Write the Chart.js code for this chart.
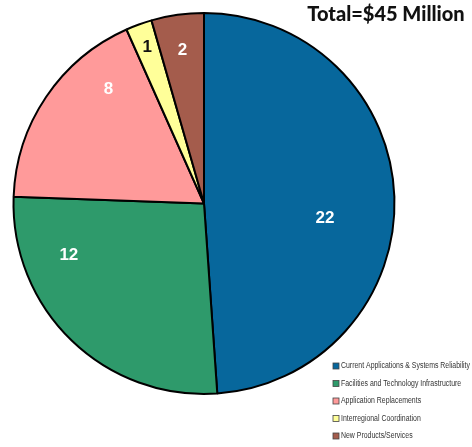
<!DOCTYPE html>
<html>
<head>
<meta charset="utf-8">
<script src="https://cdn.jsdelivr.net/npm/chart.js@4"></script>
<style>
  html, body { margin: 0; padding: 0; background: #fff; }
  #wrap { position: relative; width: 472px; height: 447px; }
</style>
</head>
<body>
<div id="wrap"><canvas id="pie" width="472" height="447"></canvas></div>
<script>
const categories = [
  "Current Applications & Systems Reliability",
  "Facilities and Technology Infrastructure",
  "Application Replacements",
  "Interregional Coordination",
  "New Products/Services"
];
const values = [22, 12, 8, 1, 2];
const colors = ["#07679c", "#2e9a6b", "#ff9a9a", "#ffff99", "#a45c4c"];
const labelColors = ["#fff", "#fff", "#fff", "#111", "#fff"];
const totalText = "Total=$45 Million";

// [angle shift in degrees, fraction of radius] for each slice label
const labelPlace = [[9, 0.64], [25, 0.76], [16, 0.78], [0, 0.87], [0, 0.81]];

const extras = {
  id: "extras",
  afterDatasetsDraw(chart) {
    const ctx = chart.ctx;
    const arcs = chart.getDatasetMeta(0).data;
    ctx.save();
    ctx.textAlign = "center";
    ctx.textBaseline = "middle";
    ctx.font = "bold 17px 'Liberation Sans', Arial, sans-serif";
    arcs.forEach((arc, i) => {
      const p = arc.getProps(["x", "y", "startAngle", "endAngle", "outerRadius"], true);
      const mid = (p.startAngle + p.endAngle) / 2 + labelPlace[i][0] * Math.PI / 180;
      const r = p.outerRadius * labelPlace[i][1];
      ctx.fillStyle = labelColors[i];
      ctx.fillText(String(values[i]), p.x + Math.cos(mid) * r, p.y + Math.sin(mid) * r);
    });

    // title
    ctx.fillStyle = "#111";
    ctx.font = "900 20px Lato, sans-serif";
    ctx.textBaseline = "alphabetic";
    ctx.fillText(totalText, 386, 21);

    // legend (text squeezed to look like a narrow face)
    ctx.textAlign = "left";
    ctx.textBaseline = "middle";
    ctx.font = "8.5px 'Liberation Sans', Arial, sans-serif";
    const sx = 129 / ctx.measureText(categories[0]).width;
    categories.forEach((c, i) => {
      const y = 366 + i * 17.5;
      ctx.fillStyle = colors[i];
      ctx.fillRect(333, y - 3, 6, 6);
      ctx.strokeStyle = "#444";
      ctx.lineWidth = 0.8;
      ctx.strokeRect(333, y - 3, 6, 6);
      ctx.save();
      ctx.translate(341, y);
      ctx.scale(sx, 1);
      ctx.fillStyle = "#333";
      ctx.fillText(c, 0, 0);
      ctx.restore();
    });
    ctx.restore();
  }
};

new Chart(document.getElementById("pie"), {
  type: "pie",
  data: {
    labels: categories,
    datasets: [{
      data: values,
      backgroundColor: colors,
      borderColor: "#000",
      borderWidth: 2,
      hoverOffset: 0
    }]
  },
  options: {
    responsive: false,
    animation: false,
    layout: { padding: { left: 12, top: 12, right: 76, bottom: 52 } },
    plugins: {
      legend: { display: false },
      tooltip: { enabled: false }
    }
  },
  plugins: [extras]
});
</script>
</body>
</html>
